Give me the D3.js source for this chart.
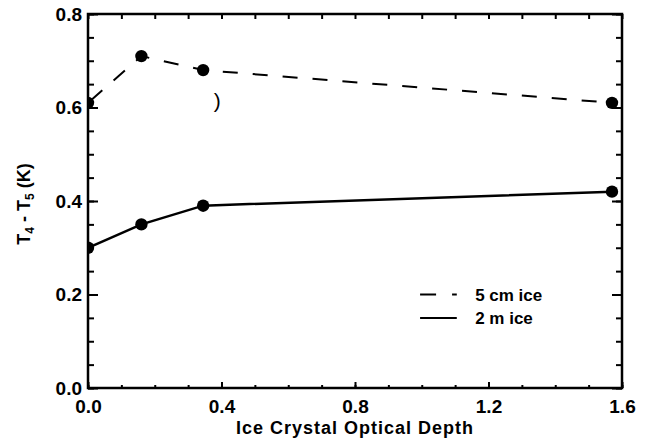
<!DOCTYPE html>
<html>
<head>
<meta charset="utf-8">
<script src="https://cdn.jsdelivr.net/npm/d3@7"></script>
<style>
  html, body { margin: 0; padding: 0; background: #fff; }
  svg { display: block; font-family: "Liberation Sans", Arial, Helvetica, sans-serif; font-weight: bold; }
</style>
</head>
<body>
<svg id="chart" width="647" height="443"></svg>
<script>
// ---- data ----
const opticalDepth = [0, 0.16, 0.345, 1.57];
const ice5cm = [0.61, 0.71, 0.68, 0.61];
const ice2m = [0.30, 0.35, 0.39, 0.42];
const xMajorTicks = [0.0, 0.4, 0.8, 1.2, 1.6];
const yMajorTicks = [0.0, 0.2, 0.4, 0.6, 0.8];
const seriesNames = ["5 cm ice", "2 m ice"];
const xTitle = "Ice Crystal Optical Depth";

// ---- layout ----
const W = 647, H = 443;
const margin = { top: 14, right: 25, bottom: 55, left: 88 };
const iw = W - margin.left - margin.right;
const ih = H - margin.top - margin.bottom;

const svg = d3.select("#chart");
const g = svg.append("g").attr("transform", `translate(${margin.left},${margin.top})`);

const x = d3.scaleLinear().domain([0, 1.6]).range([0, iw]);
const y = d3.scaleLinear().domain([0, 0.8]).range([ih, 0]);

const xMinor = d3.range(0, 1.6001, 0.1);
const yMinor = d3.range(0, 0.8001, 0.05);

function styleAxis(sel) {
  sel.select(".domain").remove();
  sel.selectAll("line").attr("stroke", "#000").attr("stroke-width", 2);
  sel.selectAll("text").attr("fill", "#000").style("font-size", "19px").style("font-weight", "bold");
}

// minor ticks
g.append("g").attr("transform", `translate(0,${ih})`)
  .call(d3.axisBottom(x).tickValues(xMinor).tickSize(-3).tickFormat(""))
  .call(styleAxis);
g.append("g")
  .call(d3.axisTop(x).tickValues(xMinor).tickSize(-5).tickFormat(""))
  .call(styleAxis);
g.append("g")
  .call(d3.axisLeft(y).tickValues(yMinor).tickSize(-6).tickFormat(""))
  .call(styleAxis);
g.append("g").attr("transform", `translate(${iw},0)`)
  .call(d3.axisRight(y).tickValues(yMinor).tickSize(-6).tickFormat(""))
  .call(styleAxis);

// major ticks with labels
g.append("g").attr("transform", `translate(0,${ih})`)
  .call(d3.axisBottom(x).tickValues(xMajorTicks).tickSizeInner(-6).tickSizeOuter(0).tickPadding(12).tickFormat(d3.format(".1f")))
  .call(styleAxis);
g.append("g")
  .call(d3.axisLeft(y).tickValues(yMajorTicks).tickSizeInner(-10).tickSizeOuter(0).tickPadding(6).tickFormat(d3.format(".1f")))
  .call(styleAxis);
g.append("g").attr("transform", `translate(${iw},0)`)
  .call(d3.axisRight(y).tickValues(yMajorTicks).tickSizeInner(-10).tickSizeOuter(0).tickFormat(""))
  .call(styleAxis);

// frame
g.append("rect").attr("x", 0).attr("y", 0).attr("width", iw).attr("height", ih)
  .attr("fill", "none").attr("stroke", "#000").attr("stroke-width", 2.5);

// clip
g.append("clipPath").attr("id", "plotclip").append("rect")
  .attr("x", 0).attr("y", 0).attr("width", iw).attr("height", ih);
const plot = g.append("g").attr("clip-path", "url(#plotclip)");

const line = d3.line().x(d => x(d[0])).y(d => y(d[1]));
const d5 = opticalDepth.map((v, i) => [v, ice5cm[i]]);
const d2 = opticalDepth.map((v, i) => [v, ice2m[i]]);

plot.append("path").datum(d5).attr("d", line)
  .attr("fill", "none").attr("stroke", "#000").attr("stroke-width", 2)
  .attr("stroke-dasharray", "15,15").attr("stroke-dashoffset", -4);
plot.append("path").datum(d2).attr("d", line)
  .attr("fill", "none").attr("stroke", "#000").attr("stroke-width", 2.5);

[d5, d2].forEach(ds => {
  plot.selectAll(null).data(ds).enter().append("circle")
    .attr("cx", d => x(d[0])).attr("cy", d => y(d[1])).attr("r", 6.2).attr("fill", "#000");
});

// small stray mark from the original scan
plot.append("text").attr("x", x(0.387)).attr("y", y(0.60))
  .attr("text-anchor", "middle").style("font-size", "21px").style("font-weight", "normal")
  .attr("fill", "#000").text(")");

// axis titles
g.append("text").attr("x", iw / 2).attr("y", ih + 46)
  .attr("text-anchor", "middle").style("font-size", "18px").style("letter-spacing", "1px")
  .attr("fill", "#000").text(xTitle);

const yt = svg.append("text")
  .attr("transform", `translate(30,${margin.top + ih / 2 + 3}) rotate(-90)`)
  .attr("text-anchor", "middle").style("font-size", "18px").attr("fill", "#000");
yt.append("tspan").text("T");
yt.append("tspan").attr("dy", 4).style("font-size", "12px").text("4");
yt.append("tspan").attr("dy", -4).text(" - T");
yt.append("tspan").attr("dy", 4).style("font-size", "12px").text("5");
yt.append("tspan").attr("dy", -4).text(" (K)");

// legend
const legend = g.append("g");
const lx0 = x(0.995), lx1 = x(1.105), ltx = x(1.16);
const ly = [y(0.2), y(0.15)];
seriesNames.forEach((name, i) => {
  legend.append("line").attr("x1", lx0).attr("x2", lx1).attr("y1", ly[i]).attr("y2", ly[i])
    .attr("stroke", "#000").attr("stroke-width", 2)
    .attr("stroke-dasharray", i === 0 ? "16,16" : null);
  legend.append("text").attr("x", ltx).attr("y", ly[i] + 6)
    .style("font-size", "17px").attr("fill", "#000").text(name);
});
</script>
</body>
</html>
